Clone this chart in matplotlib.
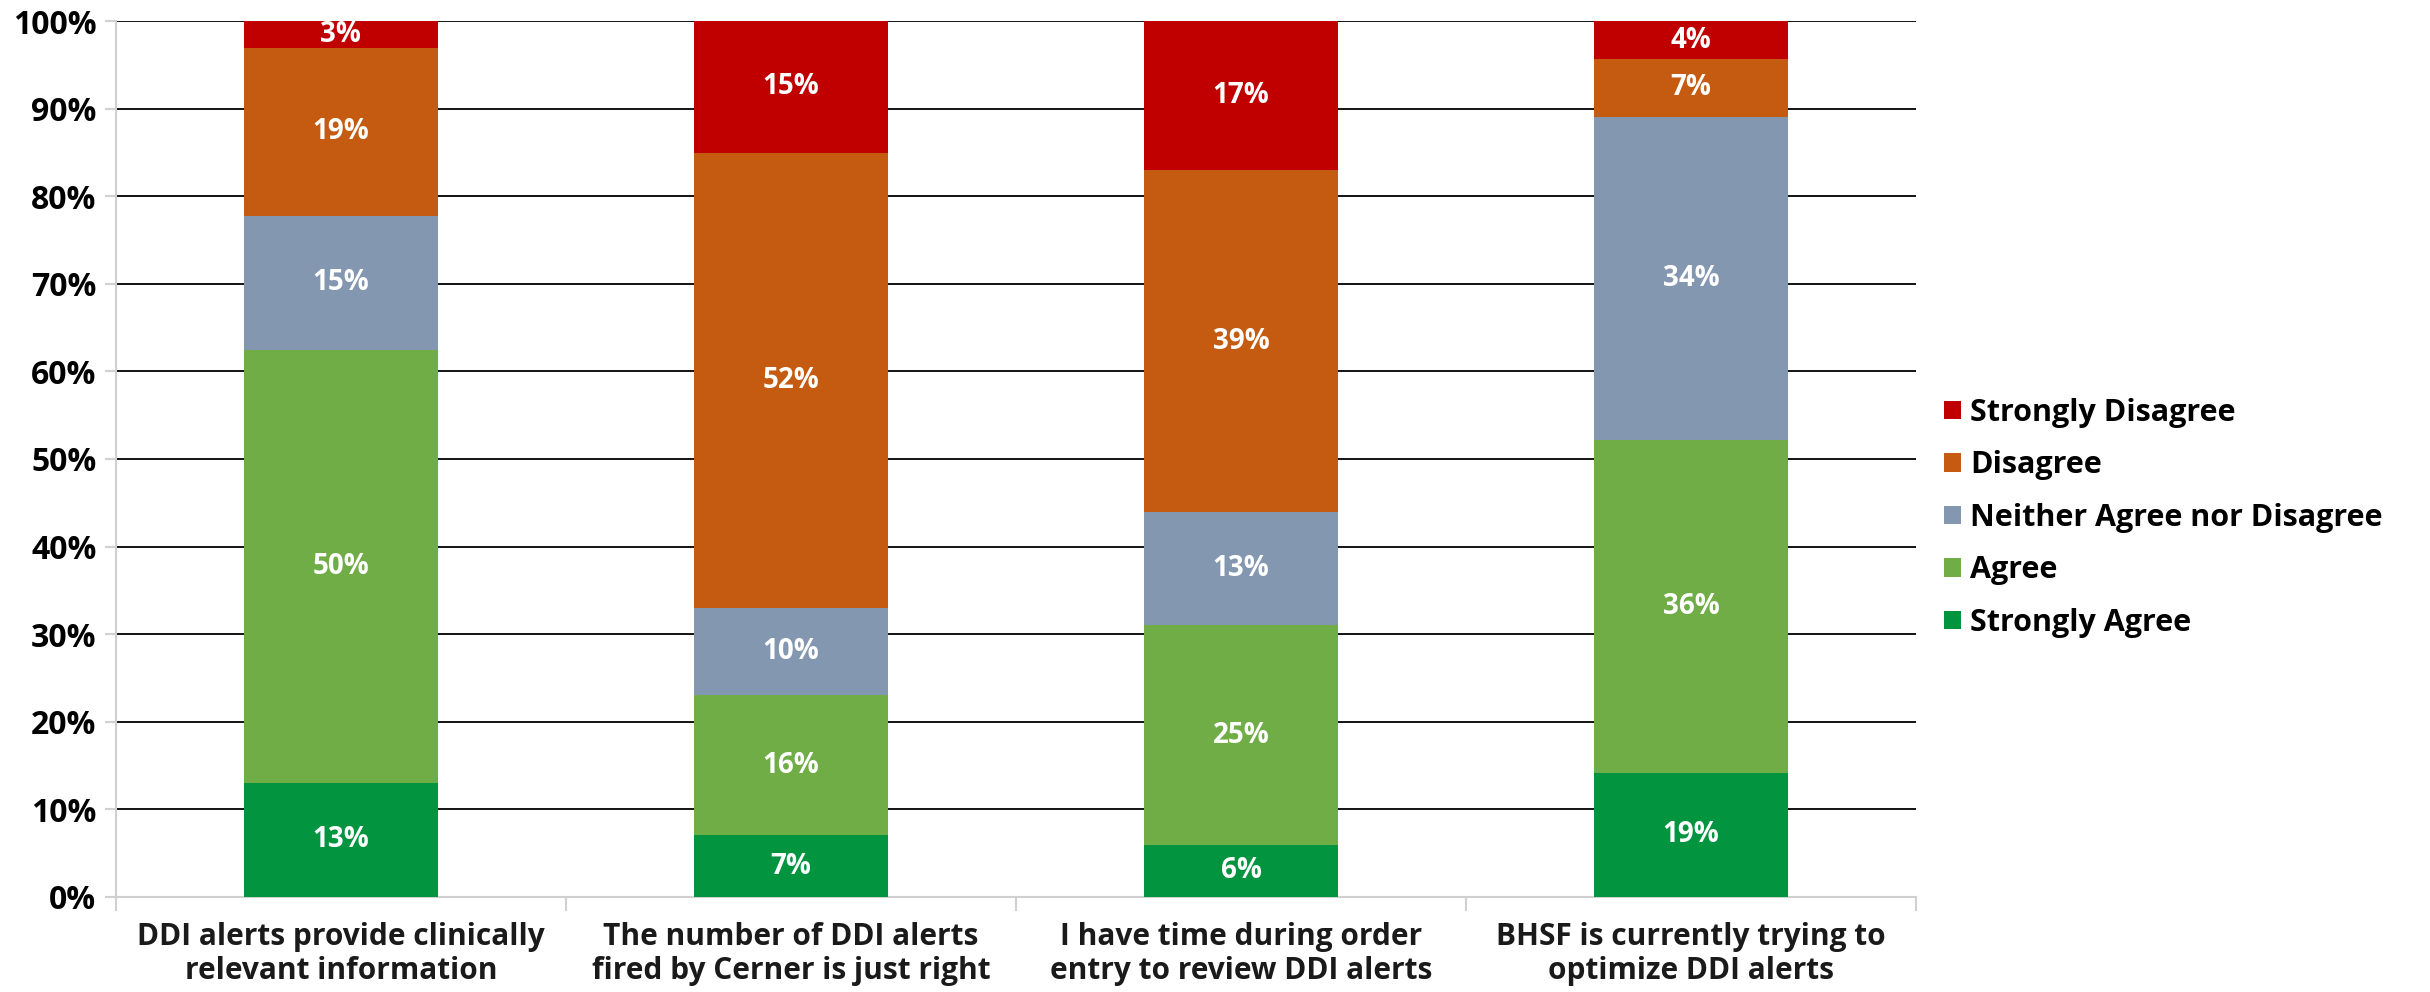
import numpy as np
import matplotlib
matplotlib.use("Agg")
import matplotlib.pyplot as plt

plt.rcParams['font.family'] = ['Open Sans', 'DejaVu Sans']
plt.rcParams['font.weight'] = 'bold'

# questions (x categories)
questions = ["DDI alerts provide clinically\nrelevant information",
             "The number of DDI alerts\nfired by Cerner is just right",
             "I have time during order\nentry to review DDI alerts",
             "BHSF is currently trying to\noptimize DDI alerts"]

# segment heights as drawn (percent)
strongly_agree = [13.0, 7.0, 5.9, 14.1]
agree = [49.5, 16.0, 25.1, 38.1]
neither = [15.3, 10.0, 12.9, 36.9]
disagree = [19.2, 52.0, 39.1, 6.6]
strongly_disagree = [3.0, 15.0, 17.0, 4.3]

# labels printed on the segments
sa_lbl = [13, 7, 6, 19]
ag_lbl = [50, 16, 25, 36]
ne_lbl = [15, 10, 13, 34]
di_lbl = [19, 52, 39, 7]
sd_lbl = [3, 15, 17, 4]

names = ["Strongly Agree", "Agree", "Neither Agree nor Disagree", "Disagree", "Strongly Disagree"]
colors = ["#03943F", "#70AD47", "#8497B0", "#C55A11", "#C00000"]

fig = plt.figure(figsize=(24.3, 9.92), dpi=100)
ax = fig.add_axes([0.0477, 0.0961, 0.7408, 0.8824])

x = np.arange(len(questions))
series = [strongly_agree, agree, neither, disagree, strongly_disagree]
labels = [sa_lbl, ag_lbl, ne_lbl, di_lbl, sd_lbl]
bottom = np.zeros(len(questions))
handles = []
for vals, lbls, name, col in zip(series, labels, names, colors):
    vals = np.array(vals)
    b = ax.bar(x, vals, 0.43, bottom=bottom, color=col, label=name, zorder=3)
    handles.append(b)
    for xi, v, bt, l in zip(x, vals, bottom, lbls):
        ax.text(xi, bt + v / 2, f"{l}%", ha='center', va='center', color='white',
                fontsize=20, fontweight='bold', zorder=4)
    bottom += vals

ax.set_xlim(-0.5, 3.5)
ax.set_ylim(0, 100)
ax.set_yticks(np.arange(0, 101, 10))
ax.set_yticklabels([f"{v}%" for v in range(0, 101, 10)], fontsize=23, fontweight='bold')
ax.yaxis.grid(True, color='black', linewidth=1.3)
ax.set_axisbelow(True)

ax.set_xticks(x)
ax.set_xticklabels(questions, fontsize=21.5, fontweight='bold', color='#1a1a1a',
                   linespacing=1.2)
ax.set_xticks([-0.5, 0.5, 1.5, 2.5, 3.5], minor=True)
ax.tick_params(axis='x', which='major', length=0, pad=18)
ax.tick_params(axis='x', which='minor', length=10, color='#D0D0D0', width=1.5)
ax.tick_params(axis='y', length=8, color='#D0D0D0', width=1.5, pad=6)

for s in ['top', 'right']:
    ax.spines[s].set_visible(False)
for s in ['left', 'bottom']:
    ax.spines[s].set_color('#D0D0D0')
    ax.spines[s].set_linewidth(1.5)

leg = fig.legend(handles[::-1], names[::-1], loc='center left',
                 bbox_to_anchor=(0.800, 0.478), frameon=False,
                 prop={'size': 22, 'weight': 'bold'},
                 handlelength=0.55, handleheight=0.55, handletextpad=0.3,
                 labelspacing=0.74, borderpad=0, borderaxespad=0)

fig.savefig("out.png", dpi=100)
